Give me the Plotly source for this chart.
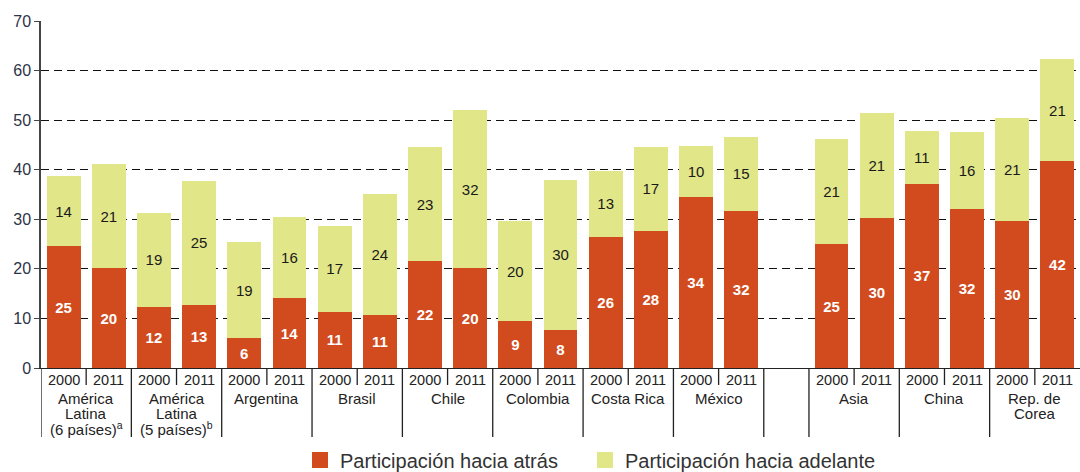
import plotly.graph_objects as go

# Participación en cadenas globales de valor (% de exportaciones brutas), 2000 y 2011
groups = [
    ["América", "Latina", "(6 países)<sup>a</sup>"],
    ["América", "Latina", "(5 países)<sup>b</sup>"],
    ["Argentina"],
    ["Brasil"],
    ["Chile"],
    ["Colombia"],
    ["Costa Rica"],
    ["México"],
    ["Asia"],
    ["China"],
    ["Rep. de", "Corea"],
]
years = ["2000", "2011"]
gap_after = "México"  # hueco vacío entre América Latina y Asia

atras = [24.6, 20.1, 12.4, 12.8, 6.0, 14.1, 11.3, 10.7, 21.6, 20.1, 9.4,
         7.6, 26.4, 27.7, 34.4, 31.7, 25.0, 30.3, 37.2, 32.0, 29.6, 41.7]
adelante = [14.1, 21.1, 18.9, 24.9, 19.4, 16.4, 17.4, 24.4, 22.9, 31.9, 20.3,
            30.4, 13.4, 16.9, 10.4, 15.0, 21.2, 21.1, 10.7, 15.6, 20.8, 20.6]
series_names = ["Participación hacia atrás", "Participación hacia adelante"]

RED = "#D14B1F"
GREEN = "#E1E689"
FONT = "Liberation Sans, Arial, sans-serif"

# posiciones de las barras (una ranura por barra, una ranura vacía tras México)
xpos, group_x = [], []
slot = 0
for g in groups:
    start = slot
    for _ in years:
        xpos.append(slot)
        slot += 1
    group_x.append((start, slot - 1))
    if g[0] == gap_after:
        slot += 1
n_slots = slot

fig = go.Figure()
for vals, name, color, tcolor, tweight, lw in [
    (atras, series_names[0], RED, "white", "bold", 240),
    (adelante, series_names[1], GREEN, "#1a1a1a", "normal", 270),
]:
    fig.add_trace(go.Bar(
        x=xpos, y=vals, name=name, showlegend=False,
        marker=dict(color=color, line=dict(width=0)),
        text=[f"{v:.0f}" for v in vals],
        textposition="inside", insidetextanchor="middle", textangle=0,
        textfont=dict(color=tcolor, size=15, family=FONT, weight=tweight),
        width=0.75,
    ))
    # entrada de leyenda con cuadrado más grande que el icono de barra
    fig.add_trace(go.Scatter(
        x=[None], y=[None], mode="markers", name=name, legendwidth=lw,
        marker=dict(symbol="square", size=16, color=color),
    ))

plot_h = 472 - 21 - 104  # alto del área de trazado en px

# años bajo cada barra
for x, yr in zip(xpos, years * len(groups)):
    fig.add_annotation(x=x, y=0, xref="x", yref="paper", text=yr,
                       showarrow=False, yanchor="middle", yshift=-12,
                       font=dict(size=14.5, color="#222", family=FONT))

# nombres de grupo, una línea por anotación para controlar el interlineado
for (a, b), lines in zip(group_x, groups):
    for k, line in enumerate(lines):
        fig.add_annotation(x=(a + b) / 2, y=0, xref="x", yref="paper", text=line,
                           showarrow=False, yanchor="middle", yshift=-30 - 15 * k,
                           font=dict(size=15, color="#222", family=FONT))

# separadores verticales entre grupos y entre años
line_style = dict(color="#222", width=1.3)
bounds = sorted({a - 0.5 for a, b in group_x} | {b + 0.5 for a, b in group_x[:-1]})
for bx in bounds:
    fig.add_shape(type="line", xref="x", yref="paper", x0=bx, x1=bx,
                  y0=0, y1=-69 / plot_h, line=line_style)
for a, b in group_x:
    fig.add_shape(type="line", xref="x", yref="paper", x0=a + 0.5, x1=a + 0.5,
                  y0=0, y1=-17 / plot_h, line=line_style)

fig.update_layout(
    barmode="stack",
    width=1080, height=472,
    margin=dict(l=41, r=0, t=21, b=104),
    paper_bgcolor="white", plot_bgcolor="white",
    font=dict(family=FONT, color="#222"),
    bargap=0.25,
    legend=dict(
        orientation="h", xref="container", x=300 / 1080, xanchor="left",
        yref="container", y=(472 - 460) / 472, yanchor="middle",
        traceorder="normal",
        font=dict(size=20, color="#333"),
        itemsizing="trace",
    ),
)
fig.update_xaxes(range=[-0.5, n_slots - 0.5], showticklabels=False,
                 showgrid=False, zeroline=False, showline=True,
                 linecolor="#222", linewidth=1.3, fixedrange=True)
fig.update_yaxes(range=[0, 70], dtick=10, showgrid=True, gridcolor="#111",
                 griddash="8px,5px", gridwidth=1.2, zeroline=False,
                 showline=True, linecolor="#444", linewidth=1.5,
                 ticks="outside", ticklen=5, tickcolor="#444",
                 tickfont=dict(size=16, color="#2e3347", family=FONT),
                 fixedrange=True)

fig.write_html("out.html", config={"displayModeBar": False},
               post_script="document.body.style.margin='0';")
